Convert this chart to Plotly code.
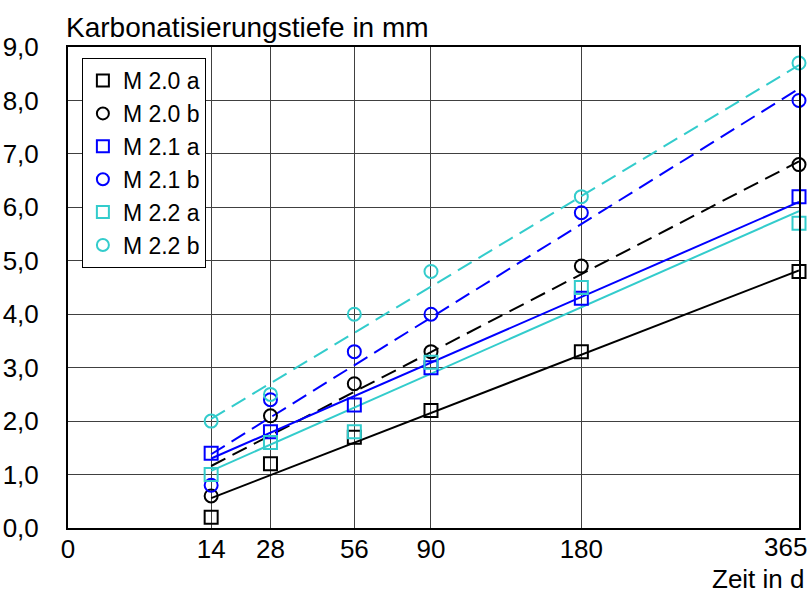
import numpy as np
import plotly.graph_objects as go

# ---- data ----
days = [14, 28, 56, 90, 180, 365]
series_names = ["M 2.0 a", "M 2.0 b", "M 2.1 a", "M 2.1 b", "M 2.2 a", "M 2.2 b"]
m20a = [0.2, 1.2, 1.7, 2.2, 3.3, 4.8]
m20b = [0.6, 2.1, 2.7, 3.3, 4.9, 6.8]
m21a = [1.4, 1.8, 2.3, 3.0, 4.3, 6.2]
m21b = [0.8, 2.4, 3.3, 4.0, 5.9, 8.0]
m22a = [1.0, 1.6, 1.8, 3.1, 4.5, 5.7]
m22b = [2.0, 2.5, 4.0, 4.8, 6.2, 8.7]
# trend line end points, at day 14 and day 365
trend_days = [14, 365]
t20a = [0.56, 4.82]
t20b = [1.16, 6.86]
t21a = [1.30, 6.10]
t21b = [1.38, 8.22]
t22a = [1.07, 5.93]
t22b = [2.04, 8.66]
tick_days = [0, 14, 28, 56, 90, 180]
tick_labels = ["0", "14", "28", "56", "90", "180"]
last_tick_label = "365"
y_ticks = [0, 1, 2, 3, 4, 5, 6, 7, 8, 9]
y_labels = ["0,0", "1,0", "2,0", "3,0", "4,0", "5,0", "6,0", "7,0", "8,0", "9,0"]

BLACK = "#000000"
BLUE = "#0000FF"
CYAN = "#33CCCC"

series = [
    (m20a, t20a, BLACK, "square-open", "solid"),
    (m20b, t20b, BLACK, "circle-open", "dash"),
    (m21a, t21a, BLUE, "square-open", "solid"),
    (m21b, t21b, BLUE, "circle-open", "dash"),
    (m22a, t22a, CYAN, "square-open", "solid"),
    (m22b, t22b, CYAN, "circle-open", "dash"),
]

xs = np.sqrt(days)
txs = np.sqrt(trend_days)

fig = go.Figure()
for name, (vals, tvals, col, sym, dash) in zip(series_names, series):
    fig.add_trace(go.Scatter(
        x=txs, y=tvals, mode="lines", showlegend=False, hoverinfo="skip",
        line=dict(color=col, width=2, dash=("16px,8px" if dash == "dash" else "solid")),
        cliponaxis=False,
    ))
for i, (name, (vals, tvals, col, sym, dash)) in enumerate(zip(series_names, series)):
    fig.add_trace(go.Scatter(
        x=xs, y=vals, mode="markers", name=name, legendgroup=f"g{i}",
        marker=dict(symbol=sym, size=13, color=col, line=dict(color=col, width=2)),
        cliponaxis=False,
    ))

fig.update_layout(
    width=812, height=593,
    margin=dict(l=68, r=13, t=47, b=65),
    paper_bgcolor="white", plot_bgcolor="white",
    font=dict(family="Liberation Sans, Arial, sans-serif", size=26, color="black"),
    showlegend=True,
    legend=dict(
        x=0.019, y=0.977, xanchor="left", yanchor="top",
        bgcolor="white", bordercolor="black", borderwidth=1,
        font=dict(size=23, color="black"),
        tracegroupgap=0, itemsizing="constant", itemwidth=30,
    ),
    xaxis=dict(
        range=[0, float(np.sqrt(365))],
        tickvals=np.sqrt(tick_days), ticktext=tick_labels,
        showgrid=True, gridcolor="#404040", gridwidth=1,
        showline=True, linecolor="black", linewidth=2, mirror=True,
        ticks="", zeroline=False, tickfont=dict(size=26),
        ticklabelstandoff=-3, automargin=False,
    ),
    yaxis=dict(
        range=[0, 9], tickvals=y_ticks, ticktext=y_labels,
        showgrid=True, gridcolor="#404040", gridwidth=1,
        showline=True, linecolor="black", linewidth=2, mirror=True,
        ticks="", zeroline=False, tickfont=dict(size=26),
        ticklabelstandoff=22, automargin=False,
    ),
    annotations=[
        dict(text="Karbonatisierungstiefe in mm", xref="paper", yref="paper",
             x=0, y=1, xanchor="left", yanchor="bottom", xshift=-4, yshift=2,
             showarrow=False, font=dict(size=28)),
        dict(text=last_tick_label, xref="paper", yref="paper",
             x=1, y=0, xanchor="right", yanchor="top", xshift=10, yshift=-2,
             showarrow=False, font=dict(size=26)),
        dict(text="Zeit in d", xref="paper", yref="paper",
             x=1, y=0, xanchor="right", yanchor="top", xshift=8, yshift=-34,
             showarrow=False, font=dict(size=26)),
    ],
)

fig.write_html("out.html", config={"displayModeBar": False},
               post_script="document.body.style.margin='0';")
